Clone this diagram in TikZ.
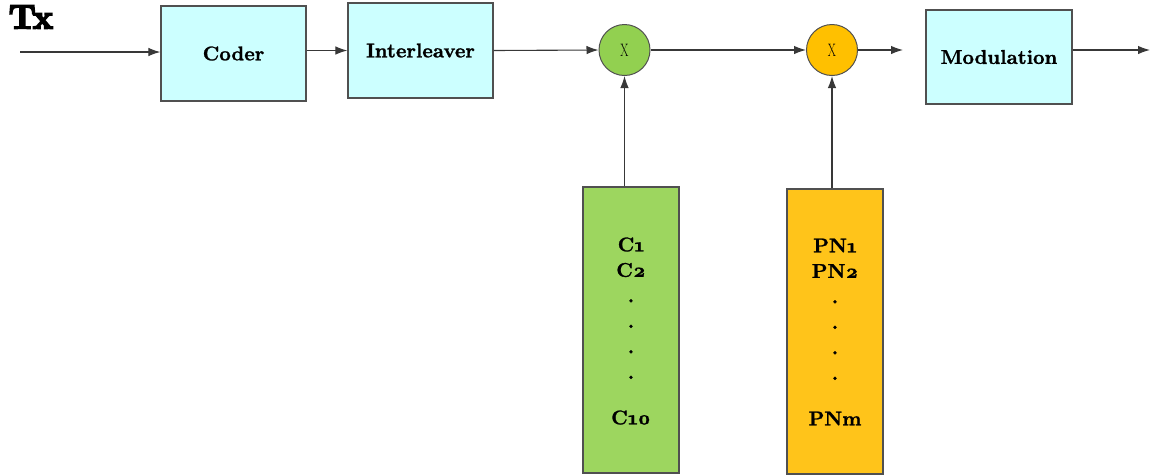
\documentclass[tikz,border=0pt]{standalone}
\usepackage{fontspec}
\usetikzlibrary{arrows.meta}
\newfontfamily\txfont{lmroman10-bold.otf}[FakeBold=5]
\newfontfamily\lblfont{lmroman10-bold.otf}[FakeBold=1.2,Numbers=OldStyle]
\definecolor{boxcyan}{HTML}{CCFFFF}
\definecolor{cgreen}{HTML}{92D050}
\definecolor{bgreen}{HTML}{9DD65F}
\definecolor{corange}{HTML}{FFC000}
\definecolor{borange}{HTML}{FFC41A}
\definecolor{edge}{HTML}{505050}
\tikzset{
  blockbox/.style={draw=edge, line width=1.2pt, fill=boxcyan, minimum width=145pt, minimum height=95pt, inner sep=0pt, font=\fontsize{20}{24}\selectfont\lblfont},
  mult/.style={draw=edge, line width=1pt, circle, minimum size=51pt, inner sep=0pt, font=\fontsize{18}{20}\selectfont\rmfamily},
  codebox/.style={draw=edge, line width=1.2pt, minimum width=96pt, inner sep=0pt},
  codetext/.style={align=center, font=\fontsize{20}{25.5}\selectfont\lblfont},
  arr/.style={draw=edge!70!black, line width=1.1pt, -{Latex[length=12pt,width=8.5pt]}},
}
\begin{document}
\begin{tikzpicture}[x=1pt,y=-1pt]
\useasboundingbox (0,0) rectangle (1152,475);
\node[font=\fontsize{34}{36}\selectfont\txfont] (tx) at (31,17) {Tx};
\node[blockbox] (coder) at (233.5,53.5) {Coder};
\node[blockbox] (inter) at (420.5,50.5) {Interleaver};
\node[mult, fill=cgreen] (m1) at (624.5,50) {\scalebox{0.65}[1]{X}};
\node[mult, fill=corange] (m2) at (832,50) {\scalebox{0.65}[1]{X}};
\node[blockbox, minimum width=146pt, minimum height=94pt] (mod) at (999,57) {Modulation};
\node[codebox, fill=bgreen, minimum height=286pt] (gbox) at (631,330) {};
\node[codebox, fill=borange, minimum height=285pt] (obox) at (835,331.5) {};
\node[codetext] (glab) at (631,331) {C1\\C2\\.\\.\\.\\.\\[20pt]C10};
\node[codetext] (olab) at (835,332) {PN1\\PN2\\.\\.\\.\\.\\[20pt]PNm};
\coordinate (in) at (20,52);
\coordinate (gap) at (903,50);
\coordinate (out) at (1150,50);
\draw[arr] (in) -- (coder.west |- in);
\draw[arr] (coder.east |- inter.west) -- (inter.west);
\draw[arr] (inter.east) -- (m1.west);
\draw[arr] (m1.east) -- (m2.west);
\draw[arr] (m2.east) -- (gap);
\draw[arr] (mod.east |- out) -- (out);
\draw[arr] (m1.south |- gbox.north) -- (m1.south);
\draw[arr] (m2.south |- obox.north) -- (m2.south);
\end{tikzpicture}
\end{document}
